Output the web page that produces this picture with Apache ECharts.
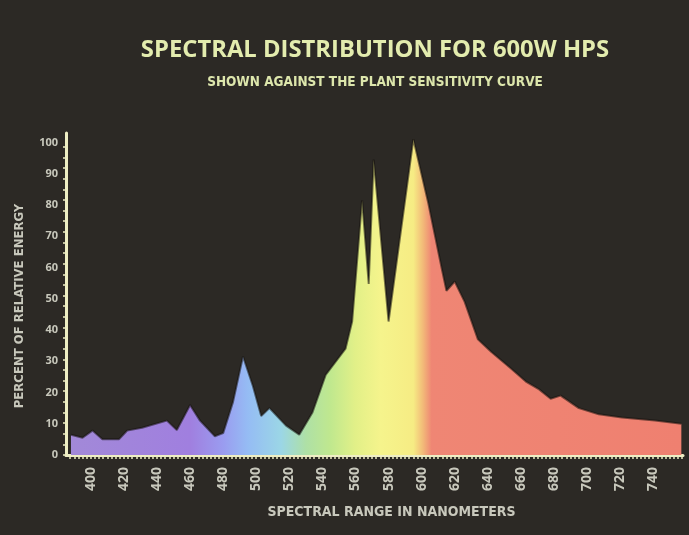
<!DOCTYPE html>
<html>
<head>
<meta charset="utf-8">
<script src="https://cdn.jsdelivr.net/npm/echarts@6/dist/echarts.min.js"></script>
<style>
html,body{margin:0;padding:0;background:#2c2925;}
#chart{width:689px;height:535px;}
</style>
</head>
<body>
<div id="chart"></div>
<script>
// Wavelength (nm) and relative energy (%)
var wavelengths = [388, 395, 401, 407, 417, 422, 431, 446, 452, 460, 466, 475, 480, 486, 492, 498, 503, 508, 518, 526, 534, 542, 554, 558, 564, 568, 571, 580, 595, 604, 612, 615, 620, 626, 634, 642, 654, 663, 671, 678, 684, 695, 707, 721, 741, 757];
var energy      = [6.5, 5.5, 7.8, 5,   5,   7.8, 8.7, 11,  8,   16,  11,  6,   7,   17,  31.5, 22, 12.5, 15, 9.4, 6.5, 13.6, 25.6, 34, 42.7, 81.5, 54.7, 94.5, 42.7, 101, 80.6, 60, 52.5, 55.5, 49, 37, 33, 27.7, 23.5, 21, 18, 19, 15, 13, 12, 11, 10];
var xTickLabels = [400, 420, 440, 460, 480, 500, 520, 540, 560, 580, 600, 620, 640, 660, 680, 700, 720, 740];
var yTickLabels = [0, 10, 20, 30, 40, 50, 60, 70, 80, 90, 100];
// Spectrum colour stops (wavelength, colour)
var stopWl     = [388, 460, 480, 495, 515, 530, 545, 560, 575, 595, 601, 606, 757];
var stopColors = ['#a289d8', '#a07fdf', '#9a9cf0', '#95bcf4', '#9bd6e6', '#aee0a6', '#c0e88e', '#e2f088', '#f5f48c', '#f6ec84', '#f2b878', '#ef8674', '#ef8070'];

var xMin = 385, xMax = 758;
var first = wavelengths[0], last = wavelengths[wavelengths.length - 1];
var gradStops = stopWl.map(function (w, i) {
  return { offset: (w - first) / (last - first), color: stopColors[i] };
});
var minorX = [];
for (var t = 387.5; t <= 757.5; t += 2.5) minorX.push(t);
var minorY = [];
for (var v = 0; v <= 102; v += 3.4) minorY.push(+v.toFixed(1));

var chart = echarts.init(document.getElementById('chart'));
var axisColor = '#eeeec4';
var labelColor = '#c8c8bc';
chart.setOption({
  backgroundColor: '#2c2925',
  title: {
    text: 'SPECTRAL DISTRIBUTION FOR 600W HPS',
    subtext: 'SHOWN AGAINST THE PLANT SENSITIVITY CURVE',
    left: 370, top: 33, textAlign: 'center',
    itemGap: 13,
    textStyle: { color: '#e3ecae', fontFamily: 'Open Sans', fontWeight: 'bold', fontSize: 23.8 },
    subtextStyle: { color: '#dde6ac', fontFamily: 'DejaVu Sans Condensed', fontWeight: 'bold', fontSize: 13.5 }
  },
  grid: { left: 66, right: 6, top: 133, bottom: 80 },
  xAxis: {
    type: 'value', min: xMin, max: xMax,
    name: 'SPECTRAL RANGE IN NANOMETERS',
    nameLocation: 'middle', nameGap: 50,
    nameTextStyle: { color: labelColor, fontFamily: 'DejaVu Sans Condensed', fontWeight: 'bold', fontSize: 14, padding: [0, 0, 0, 34] },
    axisLine: { show: true, lineStyle: { color: axisColor, width: 3 } },
    axisTick: { show: true, customValues: minorX, length: 4, lineStyle: { color: axisColor, width: 1.5 } },
    axisLabel: { customValues: xTickLabels, rotate: 90, margin: 12, color: labelColor, fontFamily: 'Open Sans', fontWeight: 'bold', fontSize: 14 },
    splitLine: { show: false }
  },
  yAxis: {
    type: 'value', min: 0, max: 103,
    name: 'PERCENT OF RELATIVE ENERGY',
    nameLocation: 'middle', nameGap: 40, nameRotate: 90,
    nameTextStyle: { color: labelColor, fontFamily: 'DejaVu Sans Condensed', fontWeight: 'bold', fontSize: 13, padding: [0, 24, 0, 0] },
    axisLine: { show: true, lineStyle: { color: axisColor, width: 3 } },
    axisTick: { show: true, customValues: minorY, length: 3, lineStyle: { color: axisColor, width: 1.5 } },
    axisLabel: { customValues: yTickLabels, margin: 8, color: labelColor, fontFamily: 'Open Sans', fontWeight: 'bold', fontSize: 11 },
    splitLine: { show: false }
  },
  series: [{
    type: 'line',
    data: wavelengths.map(function (w, i) { return [w, energy[i]]; }),
    symbol: 'none',
    smooth: false,
    lineStyle: { color: 'rgba(20,16,12,0.55)', width: 2 },
    areaStyle: {
      opacity: 1,
      color: { type: 'linear', x: 0, y: 0, x2: 1, y2: 0, colorStops: gradStops }
    },
    z: 1
  }]
});
</script>
</body>
</html>
